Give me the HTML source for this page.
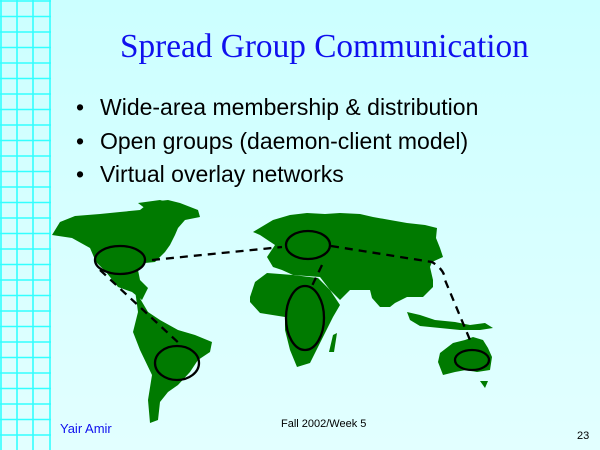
<!DOCTYPE html>
<html><head><meta charset="utf-8"><style>
html,body{margin:0;padding:0}
body{width:600px;height:450px;position:relative;overflow:hidden;background:linear-gradient(#ccffff,#e2ffff);font-family:"Liberation Sans",sans-serif}
#grid{position:absolute;left:0;top:0}
.t{position:absolute;white-space:nowrap}
.b{position:relative;height:33.5px}
.b span{position:absolute;left:24px}
</style></head><body>
<svg id="grid" width="52" height="450">
<g stroke="#33ffff" stroke-width="1.6" id="gl"></g>
</svg>
<div class="t" style="left:120px;top:28px;font-family:'Liberation Serif',serif;font-size:33.3px;color:#1010ee">Spread Group Communication</div>
<div class="t" style="left:76px;top:90px;font-size:23px;color:#000;line-height:34px;width:500px">
<div class="b">•<span>Wide-area membership &amp; distribution</span></div>
<div class="b">•<span>Open groups (daemon-client model)</span></div>
<div class="b">•<span>Virtual overlay networks</span></div>
</div>
<svg style="position:absolute;left:0;top:0" width="600" height="450">
<g fill="#007a00">
<polygon points="52,235 60,222 75,216 100,214 120,212 140,210 150,202 168,200 180,203 198,210 200,217 185,220 178,228 175,235 170,245 165,252 155,262 145,263 138,270 140,280 148,288 142,300 132,292 118,287 106,272 96,262 90,248 72,238"/>
<polygon points="138,203 160,200 178,205 178,222 165,228 155,222 150,212"/>
<polygon points="135,290 148,312 160,320 178,330 195,335 212,342 210,352 198,360 190,372 178,385 168,392 160,402 158,420 150,423 148,400 152,375 140,350 133,332 138,312"/>
<polygon points="250,297 255,282 267,273 293,275 318,278 330,290 340,305 333,317 323,337 310,363 297,367 290,350 285,330 285,317 260,313 250,302"/>
<polygon points="333,335 337,333 334,352 329,352"/>
<polygon points="253,232 273,220 290,215 307,213 325,214 340,213 360,214 373,217 390,220 407,223 425,225 437,228 436,238 440,248 443,257 432,262 430,267 433,280 433,287 423,297 407,297 395,303 390,307 380,307 372,298 370,290 350,290 340,300 330,290 320,277 293,275 282,270 273,267 267,257 275,245 260,235"/>
<polygon points="407,312 420,315 435,320 455,322 470,325 485,323 493,328 480,330 460,330 440,328 420,326 410,320"/>
<polygon points="440,353 453,343 465,340 473,337 483,340 488,348 492,357 490,370 477,372 466,370 455,372 443,375 438,362"/>
<polygon points="480,381 488,381 485,388"/>
</g>
<g fill="none" stroke="#000" stroke-width="2.3">
<g stroke-dasharray="8,6">
<path d="M152,260 L282,247"/>
<path d="M331,246 L432,262 Q445,270 445,280 L470,340"/>
<path d="M100,270 L182,346"/>
<path d="M322,265 L310,290"/>
</g>
<ellipse cx="120" cy="260" rx="25" ry="14"/>
<ellipse cx="308" cy="245" rx="22" ry="14"/>
<ellipse cx="305" cy="318" rx="19" ry="32"/>
<ellipse cx="177" cy="363" rx="22" ry="17"/>
<ellipse cx="472" cy="360" rx="17" ry="10"/>
</g>
</svg>
<div class="t" style="left:60px;top:421px;font-size:13px;color:#1010ee">Yair Amir</div>
<div class="t" style="left:281px;top:418px;font-size:11px;color:#000">Fall 2002/Week 5</div>
<div class="t" style="left:577px;top:430px;font-size:11px;color:#000">23</div>
<script>
var g=document.getElementById('gl'),ns='http://www.w3.org/2000/svg';
[1,17,33,50].forEach(function(x){var l=document.createElementNS(ns,'line');


l.setAttribute('x1',x);l.setAttribute('x2',x);l.setAttribute('y1',0);l.setAttribute('y2',450);g.appendChild(l);});
for(var y=1;y<450;y+=15.5){var l=document.createElementNS(ns,'line');


l.setAttribute('x1',0);l.setAttribute('x2',51);l.setAttribute('y1',y);l.setAttribute('y2',y);g.appendChild(l);}
</script>
</body></html>
